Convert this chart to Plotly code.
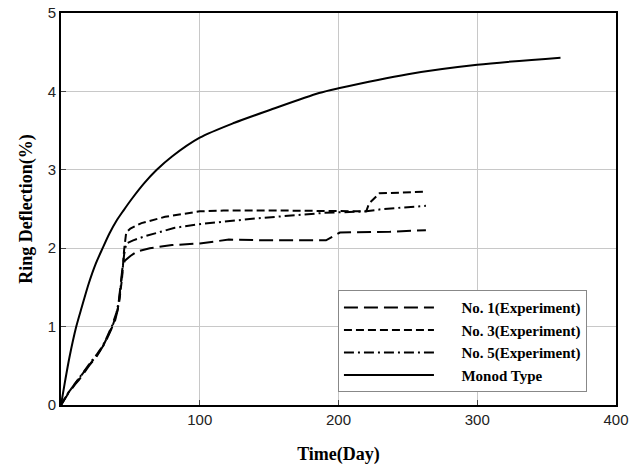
import plotly.graph_objects as go

# ---- data ----
monod_t = [0, 3, 6, 11, 15, 20, 25, 30, 35, 40, 45, 51.5, 60, 69, 80, 100, 125, 150, 186, 200, 250, 300, 360]
monod_v = [0, 0.31, 0.6, 1.0, 1.25, 1.55, 1.8, 2.0, 2.19, 2.35, 2.48, 2.64, 2.83, 3.0, 3.17, 3.41, 3.6, 3.76, 3.98, 4.04, 4.22, 4.34, 4.43]

no1_t = [0, 5, 10, 13, 17, 21, 25, 29, 32, 36, 39, 41, 43, 44.5, 46, 50, 55, 64, 80, 100, 121, 152, 191, 201, 237, 263]
no1_v = [0, 0.14, 0.26, 0.32, 0.42, 0.52, 0.6, 0.72, 0.8, 0.96, 1.08, 1.22, 1.5, 1.78, 1.84, 1.9, 1.96, 2.0, 2.04, 2.06, 2.11, 2.10, 2.10, 2.20, 2.21, 2.23]

no3_t = [0, 5, 10, 14, 18, 22, 26, 30, 34, 37, 40, 42, 44, 45.5, 47, 50, 58, 75, 100, 117, 160, 198, 220, 222, 229.5, 263]
no3_v = [0, 0.15, 0.27, 0.36, 0.46, 0.55, 0.64, 0.74, 0.88, 1.0, 1.16, 1.32, 1.62, 1.98, 2.2, 2.25, 2.32, 2.40, 2.47, 2.48, 2.48, 2.47, 2.47, 2.57, 2.70, 2.72]

no5_t = [0, 5, 10, 14, 18, 22, 26, 30, 34, 37, 40, 42, 44, 45.5, 47, 52, 60, 82, 101, 141, 189, 213, 220, 232, 263]
no5_v = [0, 0.15, 0.27, 0.37, 0.46, 0.56, 0.65, 0.75, 0.9, 1.02, 1.18, 1.35, 1.66, 1.92, 2.06, 2.1, 2.15, 2.26, 2.31, 2.38, 2.45, 2.46, 2.47, 2.50, 2.54]

names = ["No. 1(Experiment)", "No. 3(Experiment)", "No. 5(Experiment)", "Monod Type"]
x_ticks = [100, 200, 300, 400]
y_ticks = [0, 1, 2, 3, 4, 5]


def leg(n):
    return "\u2003\u2002<b>" + n + "</b>"


fig = go.Figure()
fig.add_trace(go.Scatter(x=no1_t, y=no1_v, mode="lines", name=leg(names[0]),
                         line=dict(color="black", width=2, dash="14px,6px")))
fig.add_trace(go.Scatter(x=no3_t, y=no3_v, mode="lines", name=leg(names[1]),
                         line=dict(color="black", width=2, dash="8px,4px")))
fig.add_trace(go.Scatter(x=no5_t, y=no5_v, mode="lines", name=leg(names[2]),
                         line=dict(color="black", width=2, dash="10px,4px,2px,4px")))
fig.add_trace(go.Scatter(x=monod_t, y=monod_v, mode="lines", name=leg(names[3]),
                         line=dict(color="black", width=2, shape="spline", smoothing=0.8)))

axis_common = dict(
    showline=True, linecolor="black", linewidth=2, mirror=True,
    showgrid=True, gridcolor="#c8c8c8", gridwidth=1,
    ticks="inside", ticklen=5, tickcolor="#444", tickwidth=1,
    zeroline=False, automargin=False,
    tickfont=dict(family="Liberation Sans, Arial, sans-serif", size=15, color="#222"),
)

fig.update_layout(
    width=638, height=467,
    margin=dict(l=61, r=22, t=13, b=62),
    paper_bgcolor="white", plot_bgcolor="white",
    xaxis=dict(range=[0, 400], tickvals=x_ticks,
               title=dict(text="<b>Time(Day)</b>", standoff=20,
                          font=dict(family="Liberation Serif, Times New Roman, serif", size=18, color="black")),
               **axis_common),
    yaxis=dict(range=[0, 5], tickvals=y_ticks,
               title=dict(text="<b>Ring Deflection(%)</b>", standoff=10,
                          font=dict(family="Liberation Serif, Times New Roman, serif", size=18, color="black")),
               **axis_common),
    legend=dict(x=0.499, y=0.293, xanchor="left", yanchor="top",
                bgcolor="white", bordercolor="#888", borderwidth=1,
                itemwidth=90, tracegroupgap=0,
                font=dict(family="Liberation Serif, Times New Roman, serif", size=15, color="black")),
    showlegend=True,
)

fig.write_html("out.html", config={"displayModeBar": False},
               post_script="document.body.style.margin='0px';")
